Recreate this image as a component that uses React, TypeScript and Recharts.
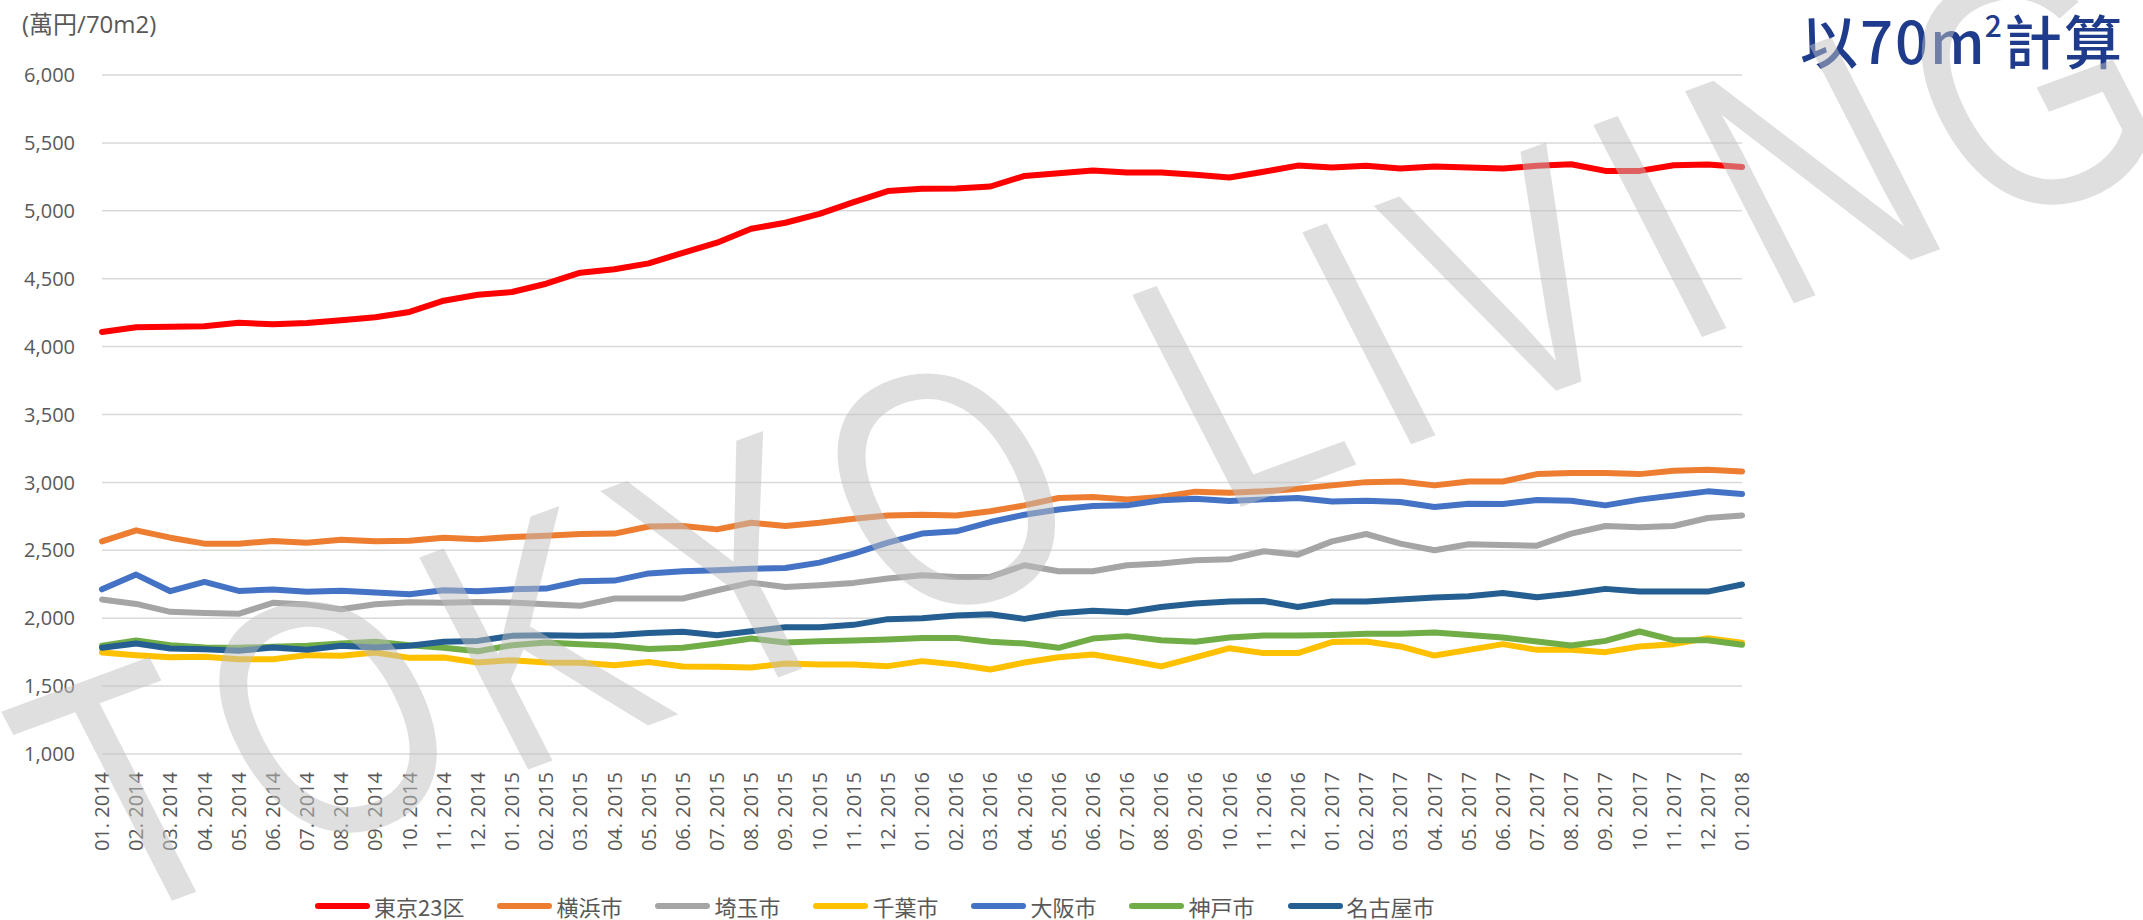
import React from 'react'
import { LineChart, Line, XAxis, YAxis, CartesianGrid } from 'recharts'

// monthly average price, 萬円 per 70m2
const months = [
  '01. 2014', '02. 2014', '03. 2014', '04. 2014', '05. 2014', '06. 2014', '07. 2014', '08. 2014', '09. 2014', '10. 2014', '11. 2014', '12. 2014',
  '01. 2015', '02. 2015', '03. 2015', '04. 2015', '05. 2015', '06. 2015', '07. 2015', '08. 2015', '09. 2015', '10. 2015', '11. 2015', '12. 2015',
  '01. 2016', '02. 2016', '03. 2016', '04. 2016', '05. 2016', '06. 2016', '07. 2016', '08. 2016', '09. 2016', '10. 2016', '11. 2016', '12. 2016',
  '01. 2017', '02. 2017', '03. 2017', '04. 2017', '05. 2017', '06. 2017', '07. 2017', '08. 2017', '09. 2017', '10. 2017', '11. 2017', '12. 2017',
  '01. 2018',
]

const tokyo = [
  4108, 4142, 4147, 4150, 4176, 4164, 4174, 4194, 4216, 4255, 4338, 4382,
  4402, 4463, 4544, 4569, 4613, 4691, 4765, 4868, 4912, 4978, 5064, 5145,
  5163, 5164, 5179, 5257, 5277, 5297, 5282, 5282, 5265, 5245, 5287, 5333,
  5319, 5331, 5311, 5326, 5319, 5311, 5331, 5343, 5294, 5294, 5336, 5341,
  5323,
]
const yokohama = [
  2566, 2647, 2593, 2549, 2549, 2569, 2556, 2578, 2566, 2571, 2593, 2581,
  2598, 2608, 2620, 2623, 2675, 2679, 2654, 2703, 2679, 2703, 2733, 2757,
  2762, 2757, 2787, 2831, 2885, 2892, 2875, 2892, 2932, 2924, 2934, 2953,
  2978, 3002, 3007, 2978, 3007, 3007, 3061, 3069, 3069, 3061, 3086, 3093,
  3081,
]
const saitama = [
  2137, 2105, 2047, 2039, 2032, 2113, 2100, 2066, 2103, 2118, 2113, 2120,
  2115, 2103, 2091, 2145, 2145, 2145, 2206, 2262, 2230, 2243, 2260, 2292,
  2316, 2304, 2304, 2390, 2346, 2346, 2390, 2402, 2426, 2434, 2493, 2468,
  2566, 2620, 2549, 2500, 2544, 2539, 2534, 2623, 2679, 2669, 2679, 2738,
  2757,
]
const chiba = [
  1748, 1728, 1713, 1716, 1698, 1698, 1728, 1723, 1748, 1708, 1711, 1674,
  1691, 1674, 1672, 1654, 1678, 1645, 1642, 1637, 1667, 1659, 1659, 1647,
  1684, 1659, 1622, 1674, 1713, 1733, 1691, 1645, 1712, 1779, 1743, 1743,
  1824, 1828, 1792, 1725, 1767, 1809, 1767, 1767, 1750, 1792, 1809, 1853,
  1819,
]
const osaka = [
  2213, 2321, 2199, 2267, 2201, 2211, 2194, 2203, 2189, 2176, 2206, 2199,
  2213, 2218, 2272, 2277, 2330, 2346, 2353, 2365, 2370, 2409, 2475, 2556,
  2623, 2640, 2708, 2762, 2801, 2826, 2831, 2868, 2880, 2863, 2875, 2885,
  2860, 2865, 2855, 2819, 2843, 2841, 2870, 2865, 2831, 2873, 2904, 2934,
  2914,
]
const kobe = [
  1797, 1836, 1801, 1784, 1782, 1789, 1797, 1814, 1826, 1801, 1782, 1757,
  1801, 1821, 1809, 1797, 1774, 1782, 1814, 1850, 1821, 1831, 1836, 1843,
  1855, 1855, 1826, 1814, 1782, 1850, 1868, 1838, 1827, 1858, 1873, 1873,
  1877, 1885, 1885, 1894, 1877, 1858, 1828, 1799, 1833, 1902, 1838, 1838,
  1804,
]
const nagoya = [
  1782, 1814, 1777, 1772, 1760, 1784, 1767, 1797, 1784, 1797, 1826, 1833,
  1870, 1875, 1870, 1875, 1891, 1900, 1875, 1904, 1934, 1934, 1951, 1993,
  2000, 2020, 2029, 1995, 2037, 2054, 2044, 2083, 2109, 2123, 2127, 2083,
  2123, 2123, 2137, 2152, 2162, 2186, 2154, 2181, 2216, 2196, 2196, 2196,
  2248,
]

const yTicks = [1000, 1500, 2000, 2500, 3000, 3500, 4000, 4500, 5000, 5500, 6000]

const series = [
  { key: 'tokyo', name: '東京23区', color: '#FF0000', values: tokyo },
  { key: 'yokohama', name: '横浜市', color: '#ED7D31', values: yokohama },
  { key: 'saitama', name: '埼玉市', color: '#A5A5A5', values: saitama },
  { key: 'chiba', name: '千葉市', color: '#FFC000', values: chiba },
  { key: 'osaka', name: '大阪市', color: '#4472C4', values: osaka },
  { key: 'kobe', name: '神戸市', color: '#70AD47', values: kobe },
  { key: 'nagoya', name: '名古屋市', color: '#255E91', values: nagoya },
]

const data = months.map((m, i) => {
  const row: any = { month: m }
  series.forEach((s) => {
    row[s.key] = s.values[i]
  })
  return row
})

const FONT = "'Open Sans', 'Noto Sans CJK JP', sans-serif"
const CJK = "'Noto Sans CJK JP', sans-serif"

const MonthTick = ({ x, y, payload }: any) => (
  <text
    x={x}
    y={y + 10}
    transform={`rotate(-90, ${x}, ${y + 10})`}
    textAnchor='end'
    dy='0.35em'
    fontSize={20}
    fontFamily={FONT}
    fill='#595959'
  >
    {payload.value}
  </text>
)

const ChartLegend = () => (
  <div
    style={{
      position: 'absolute',
      left: 315,
      top: 886,
      height: 40,
      display: 'flex',
      alignItems: 'center',
    }}
  >
    {series.map((s) => (
      <div key={s.key} style={{ display: 'flex', alignItems: 'center', marginRight: 33 }}>
        <span
          style={{
            display: 'inline-block',
            width: 55,
            height: 6,
            borderRadius: 3,
            background: s.color,
            marginRight: 4,
          }}
        />
        <span style={{ fontSize: 22, color: '#595959', fontFamily: CJK, lineHeight: '40px' }}>
          {s.name}
        </span>
      </div>
    ))}
  </div>
)

// big diagonal watermark over the chart
const Watermark = () => (
  <svg
    width={2143}
    height={920}
    style={{ position: 'absolute', left: 0, top: 0, pointerEvents: 'none' }}
  >
    <g transform='translate(1100, 428) scale(1.18, 1) rotate(-23.5) scale(0.72, 1)'>
      <text
        x={0}
        y={120}
        textAnchor='middle'
        fontSize={336}
        letterSpacing={28}
        fontFamily="'Liberation Sans', Arial, sans-serif"
        fill='rgb(191,191,191)'
        fillOpacity={0.5}
      >
        TOKYO LIVING
      </text>
    </g>
  </svg>
)

const App = () => {
  return (
    <div
      style={{
        position: 'absolute',
        left: 0,
        top: 0,
        width: 2143,
        height: 920,
        background: '#fff',
        overflow: 'hidden',
      }}
    >
      <div
        style={{
          position: 'absolute',
          left: 22,
          top: 6,
          fontSize: 24,
          color: '#595959',
          fontFamily: FONT,
          lineHeight: '36px',
        }}
      >
        (萬円/70m2)
      </div>
      <LineChart
        width={2143}
        height={920}
        data={data}
        margin={{ top: 75, right: 401, bottom: 26, left: 22 }}
      >
        <CartesianGrid vertical={false} stroke='#d9d9d9' strokeWidth={1.5} />
        <XAxis
          dataKey='month'
          interval={0}
          axisLine={false}
          tickLine={false}
          height={140}
          tick={<MonthTick />}
        />
        <YAxis
          domain={[1000, 6000]}
          ticks={yTicks}
          width={80}
          axisLine={false}
          tickLine={false}
          tickSize={0}
          tickMargin={27}
          tickFormatter={(v: number) => v.toLocaleString('en-US')}
          tick={{ fontSize: 20, fill: '#595959', fontFamily: FONT }}
        />
        {series.map((s) => (
          <Line
            key={s.key}
            type='linear'
            dataKey={s.key}
            name={s.name}
            stroke={s.color}
            strokeWidth={6}
            strokeLinecap='round'
            strokeLinejoin='round'
            dot={false}
            activeDot={false}
            isAnimationActive={false}
          />
        ))}
      </LineChart>
      <ChartLegend />
      <div
        style={{
          position: 'absolute',
          left: 1800,
          top: -6,
          fontSize: 58,
          fontWeight: 500,
          letterSpacing: 2,
          color: '#1F3C8C',
          fontFamily: "'Noto Sans CJK TC', sans-serif",
          lineHeight: '90px',
          whiteSpace: 'nowrap',
        }}
      >
        以70m<sup style={{ fontSize: 30, verticalAlign: 'top', lineHeight: '60px', marginLeft: -2 }}>2</sup>計算
      </div>
      <Watermark />
    </div>
  )
}

export default App
